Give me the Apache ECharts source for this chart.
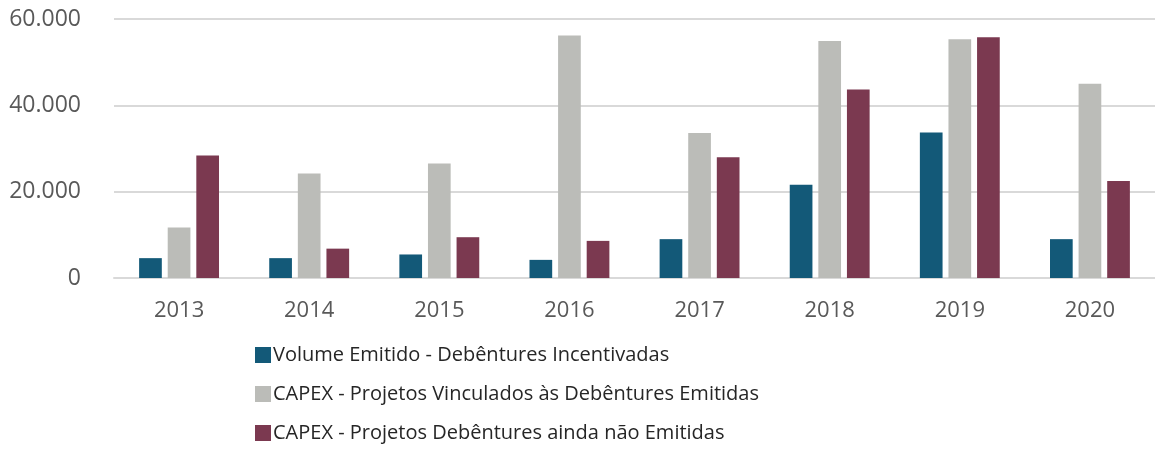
<!DOCTYPE html>
<html>
<head>
<meta charset="utf-8">
<script src="https://cdn.jsdelivr.net/npm/echarts@6/dist/echarts.min.js"></script>
<style>
  html, body { margin: 0; padding: 0; background: #fff; }
  #main { width: 1155px; height: 453px; }
</style>
</head>
<body>
<div id="main"></div>
<script>
// data
let years = ['2013', '2014', '2015', '2016', '2017', '2018', '2019', '2020'];
let volumeEmitido = [4600, 4600, 5450, 4200, 9000, 21600, 33700, 9000];
let capexVinculados = [11700, 24200, 26500, 56200, 33600, 54900, 55300, 45000];
let capexNaoEmitidas = [28400, 6800, 9450, 8600, 27950, 43650, 55800, 22500];
let seriesNames = [
    'Volume Emitido - Debêntures Incentivadas',
    'CAPEX - Projetos Vinculados às Debêntures Emitidas',
    'CAPEX - Projetos Debêntures ainda não Emitidas'
];

let chartDom = document.getElementById('main');
let myChart = echarts.init(chartDom);
let option;

let font = '"Open Sans", sans-serif';

option = {
    animation: false,
    color: ['#135978', '#bbbcb8', '#7b3950'],
    textStyle: { fontFamily: font },
    grid: {
        left: 114,
        top: 19,
        width: 1043,
        height: 259
    },
    legend: {
        orient: 'vertical',
        left: 250,
        top: 340,
        height: 113,
        itemWidth: 16,
        itemHeight: 16,
        itemGap: 19,
        icon: 'rect',
        textStyle: {
            fontFamily: font,
            fontSize: 20,
            lineHeight: 16,
            color: '#262626',
            padding: [0, 0, 0, -3]
        },
        data: seriesNames
    },
    xAxis: {
        type: 'category',
        data: years,
        axisLine: { lineStyle: { color: '#d9d9d9', width: 2 } },
        axisTick: { show: false },
        axisLabel: {
            fontSize: 22,
            color: '#595959',
            margin: 22
        }
    },
    yAxis: {
        type: 'value',
        min: 0,
        max: 60000,
        interval: 20000,
        axisLine: { show: false },
        axisTick: { show: false },
        splitLine: { lineStyle: { color: '#d9d9d9', width: 2 } },
        axisLabel: {
            fontSize: 23,
            color: '#595959',
            margin: 33,
            formatter: function (v) {
                return v === 0 ? '0' : (v / 1000).toFixed(0) + '.000';
            }
        }
    },
    series: [
        {
            name: seriesNames[0],
            type: 'bar',
            data: volumeEmitido,
            barGap: '26%',
            barCategoryGap: '38.6%'
        },
        {
            name: seriesNames[1],
            type: 'bar',
            data: capexVinculados
        },
        {
            name: seriesNames[2],
            type: 'bar',
            data: capexNaoEmitidas
        }
    ]
};

option && myChart.setOption(option);
</script>
</body>
</html>
